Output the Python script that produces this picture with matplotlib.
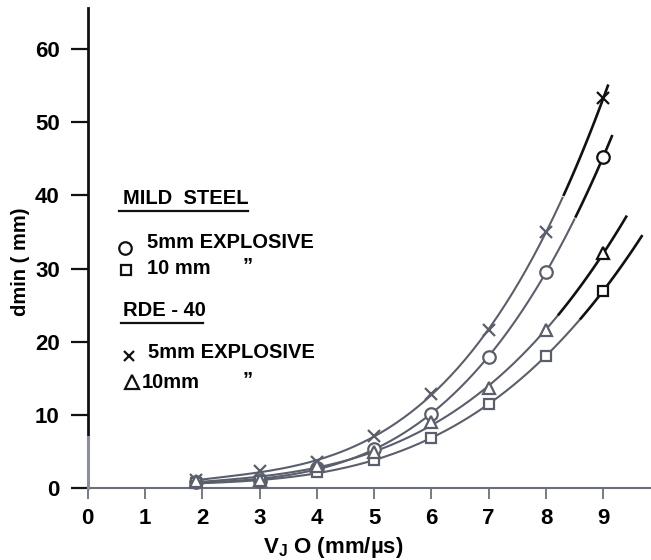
import numpy as np
import matplotlib
matplotlib.use("Agg")
import matplotlib.pyplot as plt
from matplotlib.lines import Line2D

plt.rcParams['font.family'] = ['Liberation Sans', 'DejaVu Sans']
plt.rcParams['font.weight'] = 'bold'
plt.rcParams['mathtext.fontset'] = 'custom'
plt.rcParams['mathtext.rm'] = 'Liberation Sans:bold'
plt.rcParams['mathtext.bf'] = 'Liberation Sans:bold'

# ---- data ----
v_jo = [1.9, 3, 4, 5, 6, 7, 8, 9]
mild_5mm = [0.8, 1.0, 2.8, 5.4, 10.2, 17.9, 29.6, 45.3]
mild_10mm = [0.7, 1.0, 2.2, 3.8, 6.9, 11.5, 18.1, 27.0]
rde_5mm = [1.1, 2.3, 3.6, 7.2, 12.9, 21.6, 35.0, 53.3]
rde_10mm = [1.0, 1.2, 3.0, 5.0, 9.0, 13.7, 21.6, 32.2]
curve_end = {'mild_5mm': 9.15, 'mild_10mm': 9.67, 'rde_5mm': 9.08, 'rde_10mm': 9.4}
xticks = [0, 1, 2, 3, 4, 5, 6, 7, 8, 9]
yticks = [0, 10, 20, 30, 40, 50, 60]

W, H = 651, 560
fig = plt.figure(figsize=(W / 100, H / 100), dpi=100)
x0px, y0px = 87.6, 488.3
ax = fig.add_axes([x0px / W, (H - y0px) / H, (W - x0px) / W, (y0px - 8) / H])
ax.set_xlim(0, (W - x0px) / 57.3)
ax.set_ylim(0, (y0px - 8) / 7.32)

GREY = '#5a5f6b'
BLACK = '#111111'

series = [
    ('mild_5mm', mild_5mm, 'o', 9, 8.5),
    ('mild_10mm', mild_10mm, 's', 7, 8.6),
    ('rde_5mm', rde_5mm, 'x', 8, 8.3),
    ('rde_10mm', rde_10mm, '^', 9, 8.2),
]
for name, ys, mk, ms, dark_from in series:
    xs = np.array(v_jo)
    coef = np.polyfit(xs, ys, 3)
    xx = np.linspace(xs[0], curve_end[name], 300)
    yy = np.polyval(coef, xx)
    m1 = xx <= dark_from
    m2 = xx >= dark_from
    ax.plot(xx[m1], yy[m1], color=GREY, lw=1.5, zorder=2)
    ax.plot(xx[m2], yy[m2], color=BLACK, lw=1.9, zorder=2)
    for xv, yv in zip(xs, ys):
        c = BLACK if xv > dark_from else GREY
        ax.plot([xv], [yv], marker=mk, ms=ms, mfc='white', mec=c, mew=1.6,
                ls='none', zorder=3, clip_on=False)

for s in ['top', 'right']:
    ax.spines[s].set_visible(False)
ax.spines['left'].set_color(BLACK)
ax.spines['left'].set_linewidth(2)
ax.spines['bottom'].set_color('#6a6f7a')
ax.spines['bottom'].set_linewidth(1.5)
ax.plot([0, 0], [0, 7], color='#8a8f9a', lw=2.2, zorder=5, clip_on=False)

ax.set_xticks(xticks)
ax.set_yticks(yticks)
ax.tick_params(axis='x', direction='out', length=8, width=1.3, color='#6a6f7a',
               labelsize=16, pad=6)
ax.tick_params(axis='y', direction='out', length=12, width=1.6, color=BLACK,
               labelsize=16, pad=8)
for lab in ax.get_xticklabels() + ax.get_yticklabels():
    lab.set_fontweight('bold')

fig.text(333 / W, 1 - 548 / H, r'V$_\mathbf{J}$ O (mm/µs)', ha='center', va='center',
         fontsize=16, fontweight='bold')
fig.text(21 / W, 1 - 262 / H, 'dmin ( mm)', ha='center', va='center', rotation=90,
         fontsize=14.5, fontweight='bold')

def ftext(x, y, s, **kw):
    fig.text(x / W, 1 - y / H, s, va='center', ha='left', fontsize=14.5,
             fontweight='bold', **kw)

def fmark(x, y, mk, ms):
    fig.add_artist(Line2D([x / W], [1 - y / H], marker=mk, ms=ms, mfc='white',
                          mec=BLACK, mew=1.6, ls='none', transform=fig.transFigure))

def fline(x1, x2, y):
    fig.add_artist(Line2D([x1 / W, x2 / W], [1 - y / H, 1 - y / H], color=BLACK,
                          lw=1.6, transform=fig.transFigure))

ftext(123, 198, 'MILD  STEEL')
fline(119, 248, 211)
fmark(125, 248, 'o', 9)
ftext(147, 242, '5mm EXPLOSIVE')
fmark(126, 270, 's', 7)
ftext(147, 268, '10 mm')
ftext(243, 266, '”')
ftext(123, 310, 'RDE - 40')
fline(121, 203, 323)
fmark(129, 356, 'x', 7)
ftext(148, 353, '5mm EXPLOSIVE')
fmark(132, 382, '^', 10)
ftext(142, 382, '10mm')
ftext(243, 380, '”')

fig.savefig('out.png', dpi=100)
